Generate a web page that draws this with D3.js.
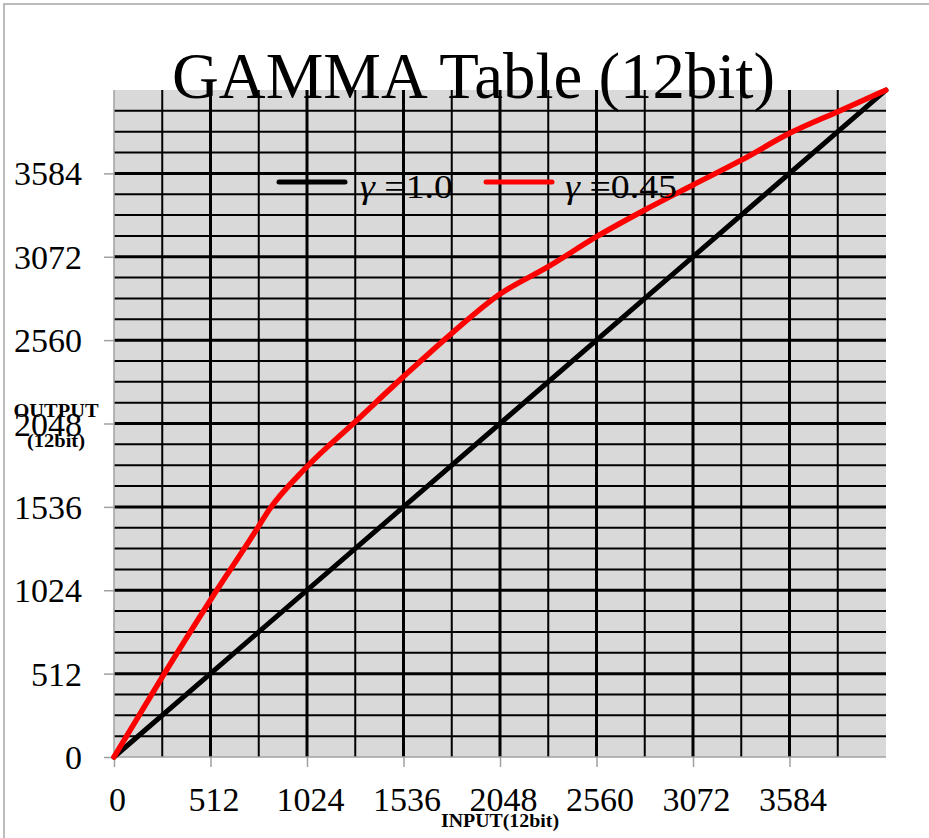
<!DOCTYPE html>
<html>
<head>
<meta charset="utf-8">
<script src="https://cdn.jsdelivr.net/npm/d3@7/dist/d3.min.js"></script>
<style>
  html, body { margin: 0; padding: 0; background: #ffffff; }
  svg { display: block; font-family: "Liberation Serif", "DejaVu Serif", serif; }
</style>
</head>
<body>
<svg id="chart" width="929" height="838"></svg>
<script>
// ---- data ----
const titleText = "GAMMA Table (12bit)";
const xAxisTitle = "INPUT(12bit)";
const yAxisTitle = ["OUTPUT", "(12bit)"];
const xTickValues = [0, 512, 1024, 1536, 2048, 2560, 3072, 3584];
const yTickValues = [0, 512, 1024, 1536, 2048, 2560, 3072, 3584];
const seriesNames = ["=1.0", "=0.45"];
// gamma = 1.0 (linear)
const linearInput  = [0, 4095];
const linearOutput = [0, 4095];
// gamma = 0.45
const gammaInput  = [0, 256, 512, 768, 810, 1024, 1280, 1536, 1792, 2048, 2304, 2560, 2816, 3072, 3328, 3584, 3840, 4095];
const gammaOutput = [0, 491, 964, 1418, 1496, 1783, 2059, 2336, 2602, 2843, 3011, 3195, 3359, 3513, 3665, 3830, 3963, 4095];

// ---- layout ----
const svg = d3.select("#chart");
const pL = 114, pR = 886, pT = 90, pB = 757;
const x = d3.scaleLinear().domain([0, 4096]).range([pL, pR]);
const y = d3.scaleLinear().domain([0, 4096]).range([pB, pT]);

// outer border
svg.append("rect").attr("x", 4).attr("y", 4).attr("width", 960).attr("height", 900)
  .attr("fill", "none").attr("stroke", "#a6a6a6").attr("stroke-width", 1.5);

// plot background
svg.append("rect").attr("x", pL).attr("y", pT).attr("width", pR - pL).attr("height", pB - pT)
  .attr("fill", "#d9d9d9");

// grid
const vGrid = d3.range(256, 4096, 256);
const hGrid = d3.range(128, 4096, 128);
svg.append("g").selectAll("line").data(vGrid).join("line")
  .attr("x1", d => x(d)).attr("x2", d => x(d)).attr("y1", pT).attr("y2", pB)
  .attr("stroke", "#000").attr("stroke-width", d => d % 512 === 0 ? 3 : 2);
svg.append("g").selectAll("line").data(hGrid).join("line")
  .attr("y1", d => y(d)).attr("y2", d => y(d)).attr("x1", pL).attr("x2", pR)
  .attr("stroke", "#000").attr("stroke-width", d => d % 512 === 0 ? 3 : 2);

// axes
const fmt = d3.format("d");
const yAxis = d3.axisLeft(y).tickValues(yTickValues).tickFormat(fmt).tickSize(10).tickPadding(22);
const gy = svg.append("g").attr("transform", `translate(${pL},0)`).call(yAxis);
gy.select(".domain").attr("stroke", "#a0a0a0").attr("stroke-width", 1.5).attr("d", `M0,${pT}V${pB}`);
gy.selectAll(".tick line").attr("stroke", "#a0a0a0").attr("stroke-width", 1.5);
gy.selectAll(".tick text").attr("font-size", 34).attr("fill", "#000")
  .attr("font-family", "Liberation Serif, serif").attr("dy", "0.34em");

const xAxis = d3.axisBottom(x).tickValues(xTickValues).tickFormat(fmt).tickSize(10).tickPadding(20);
const gx = svg.append("g").attr("transform", `translate(0,${pB})`).call(xAxis);
gx.select(".domain").attr("stroke", "#a0a0a0").attr("stroke-width", 1.5).attr("d", `M${pL},0H${pR}`);
gx.selectAll(".tick line").attr("stroke", "#a0a0a0").attr("stroke-width", 1.5);
gx.selectAll(".tick text").attr("font-size", 34).attr("fill", "#000")
  .attr("font-family", "Liberation Serif, serif").attr("dy", "0.71em").attr("dx", 3);

// curves
const line = d3.line().x(d => x(d[0])).y(d => y(d[1]));
const smooth = d3.line().curve(d3.curveMonotoneX).x(d => x(d[0])).y(d => y(d[1]));
svg.append("path").datum(d3.zip(linearInput, linearOutput))
  .attr("d", line).attr("fill", "none").attr("stroke", "#000").attr("stroke-width", 5)
  .attr("stroke-linecap", "round");
svg.append("path").datum(d3.zip(gammaInput, gammaOutput))
  .attr("d", smooth).attr("fill", "none").attr("stroke", "#ff0000").attr("stroke-width", 5.5)
  .attr("stroke-linecap", "round").attr("stroke-linejoin", "round");

// legend
const legend = [
  { name: seriesNames[0], color: "#000", lx: 279, tx: 360, tw: 93 },
  { name: seriesNames[1], color: "#ff0000", lx: 486, tx: 565, tw: 112 }
];
legend.forEach(l => {
  svg.append("line").attr("x1", l.lx).attr("x2", l.lx + 66).attr("y1", 182).attr("y2", 182)
    .attr("stroke", l.color).attr("stroke-width", 5).attr("stroke-linecap", "round");
  const t = svg.append("text").attr("x", l.tx).attr("y", 198).attr("font-size", 34).attr("fill", "#000")
    .attr("textLength", l.tw).attr("lengthAdjust", "spacingAndGlyphs");
  t.append("tspan").attr("font-style", "italic").text("γ");
  t.append("tspan").text(" " + l.name);
});

// axis titles
svg.append("text").attr("x", 500).attr("y", 827).attr("text-anchor", "middle")
  .attr("font-size", 19).attr("font-weight", "bold").attr("fill", "#000")
  .attr("textLength", 118).attr("lengthAdjust", "spacingAndGlyphs").text(xAxisTitle);
svg.append("text").attr("x", 56).attr("y", 417).attr("text-anchor", "middle")
  .attr("font-size", 19).attr("font-weight", "bold").attr("fill", "#000")
  .attr("textLength", 85).attr("lengthAdjust", "spacingAndGlyphs").text(yAxisTitle[0]);
svg.append("text").attr("x", 56).attr("y", 447).attr("text-anchor", "middle")
  .attr("font-size", 19).attr("font-weight", "bold").attr("fill", "#000")
  .attr("textLength", 58).attr("lengthAdjust", "spacingAndGlyphs").text(yAxisTitle[1]);

// title
svg.append("text").attr("x", 473.5).attr("y", 98).attr("text-anchor", "middle")
  .attr("font-size", 65).attr("fill", "#000")
  .attr("textLength", 603).attr("lengthAdjust", "spacingAndGlyphs").text(titleText);
</script>
</body>
</html>
